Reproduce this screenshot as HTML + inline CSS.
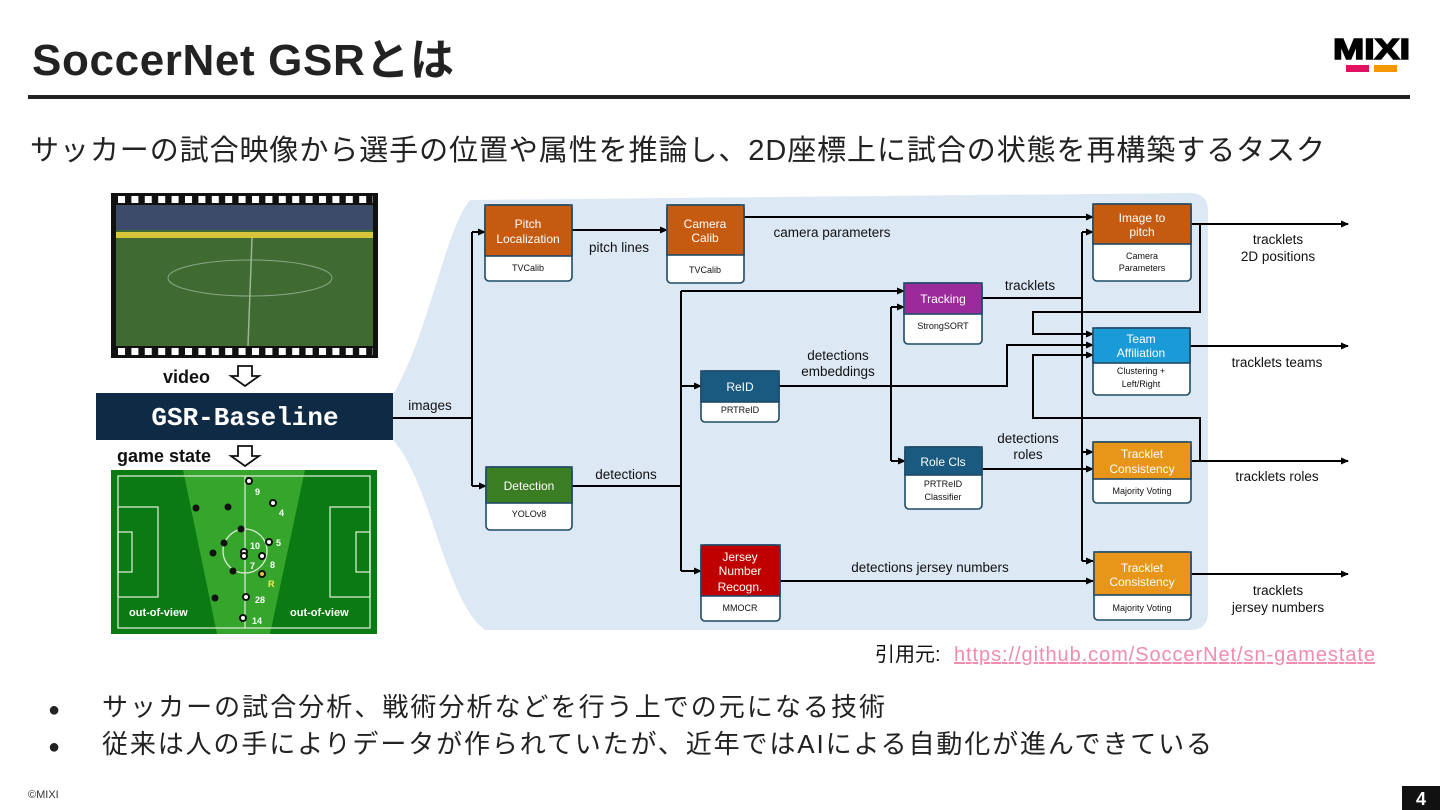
<!DOCTYPE html>
<html><head><meta charset="utf-8"><style>
body{margin:0;width:1440px;height:810px;background:#fff;overflow:hidden;font-family:"Liberation Sans","Noto Sans CJK JP",sans-serif}
svg{position:absolute;left:0;top:0}
</style></head><body>
<svg width="1440" height="810" viewBox="0 0 1440 810" font-family="Liberation Sans, Noto Sans CJK JP, sans-serif">
<defs>
<marker id="a" markerWidth="8" markerHeight="8" refX="7" refY="4" orient="auto" markerUnits="userSpaceOnUse"><path d="M0,0.5 L8,4 L0,7.5z" fill="#000"/></marker>
<pattern id="perf" x="116" y="0" width="13.4" height="10" patternUnits="userSpaceOnUse"><rect x="2" y="0" width="7" height="10" fill="#fff"/></pattern>
</defs>
<!-- header -->
<text x="32" y="75" font-size="44" font-weight="bold" fill="#222" textLength="422">SoccerNet GSRとは</text>
<rect x="28" y="95" width="1382" height="4" fill="#222"/>
<text x="1333" y="59" font-size="29" font-weight="900" fill="#000" textLength="77" lengthAdjust="spacingAndGlyphs" stroke="#000" stroke-width="1.5">MIXI</text>
<rect x="1346" y="65" width="23" height="7" fill="#e0115f"/><rect x="1374" y="65" width="23" height="7" fill="#f39800"/>
<text x="30" y="160" font-size="29" fill="#222" textLength="1295">サッカーの試合映像から選手の位置や属性を推論し、2D座標上に試合の状態を再構築するタスク</text>
<!-- film -->
<rect x="111" y="193" width="267" height="165" fill="#111"/>
<rect x="116" y="205" width="257" height="141" fill="#3f6a32"/>
<rect x="116" y="205" width="257" height="25" fill="#3c4b6a"/>
<rect x="116" y="232" width="257" height="6" fill="#d8c63a"/>
<rect x="116" y="196" width="257" height="7" fill="url(#perf)"/>
<rect x="116" y="348" width="257" height="7" fill="url(#perf)"/>
<ellipse cx="250" cy="278" rx="82" ry="18" fill="none" stroke="#8aa884" stroke-width="1"/>
<line x1="252" y1="238" x2="248" y2="346" stroke="#9ab894" stroke-width="1.5"/>
<text x="163" y="383" font-size="18" font-weight="bold" fill="#111">video</text>
<path d="M238,366 h14 v10 h7 l-14,10 l-14,-10 h7z" fill="#fff" stroke="#111" stroke-width="1.8"/>
<!-- fan -->
<path d="M393,395 C430,330 445,230 470,200 L1190,193 Q1208,193 1208,211 L1208,612 Q1208,630 1190,630 L485,630 C445,600 430,480 393,440z" fill="#dde8f5"/>
<rect x="96" y="393" width="297" height="47" fill="#0f2a45"/>
<text x="245" y="425" font-size="26" font-weight="bold" fill="#fff" text-anchor="middle" font-family="Liberation Mono, monospace">GSR-Baseline</text>
<text x="117" y="462" font-size="18" font-weight="bold" fill="#111">game state</text>
<path d="M238,446 h14 v10 h7 l-14,10 l-14,-10 h7z" fill="#fff" stroke="#111" stroke-width="1.8"/>
<!-- pitch -->
<rect x="111" y="470" width="266" height="164" fill="#0a7a12"/>
<path d="M183,470 L305,470 L270,634 L217,634z" fill="#35a52c"/>
<g fill="none" stroke="#d8e8d0" stroke-width="1.3">
<rect x="118" y="476" width="252" height="152"/>
<line x1="245" y1="476" x2="245" y2="628"/>
<circle cx="245" cy="551" r="22"/>
<rect x="118" y="507" width="40" height="90"/><rect x="118" y="532" width="14" height="40"/>
<rect x="330" y="507" width="40" height="90"/><rect x="356" y="532" width="14" height="40"/>
</g>
<g fill="#fff" stroke="#111" stroke-width="2">
<circle cx="249" cy="481" r="3"/><circle cx="273" cy="503" r="3"/><circle cx="269" cy="542" r="3"/><circle cx="244" cy="552" r="3"/><circle cx="244" cy="556" r="3"/><circle cx="262" cy="556" r="3"/><circle cx="246" cy="597" r="3"/><circle cx="243" cy="618" r="3"/>
</g>
<circle cx="262" cy="574" r="3" fill="#e8c040" stroke="#111" stroke-width="2"/>
<g fill="#111"><circle cx="196" cy="508" r="3.5"/><circle cx="228" cy="507" r="3.5"/><circle cx="241" cy="529" r="3.5"/><circle cx="224" cy="543" r="3.5"/><circle cx="213" cy="553" r="3.5"/><circle cx="233" cy="571" r="3.5"/><circle cx="215" cy="598" r="3.5"/></g>
<g font-size="9" font-weight="bold" fill="#fff"><text x="255" y="495">9</text><text x="279" y="516">4</text><text x="250" y="549">10</text><text x="276" y="546">5</text><text x="250" y="569">7</text><text x="270" y="568">8</text><text x="255" y="603">28</text><text x="252" y="624">14</text><text x="268" y="587" fill="#ee5">R</text>
<text x="129" y="616" font-size="11">out-of-view</text><text x="290" y="616" font-size="11">out-of-view</text></g>
<!-- connectors -->
<g stroke="#000" stroke-width="2" fill="none">
<path d="M393,418 H472"/><path d="M472,232 V486"/>
<path d="M472,232 H485" marker-end="url(#a)"/><path d="M472,486 H486" marker-end="url(#a)"/>
<path d="M572,230 H667" marker-end="url(#a)"/>
<path d="M744,217 H1093" marker-end="url(#a)"/>
<path d="M572,486 H681"/><path d="M681,291 V571"/>
<path d="M681,291 H904" marker-end="url(#a)"/><path d="M681,386 H701" marker-end="url(#a)"/><path d="M681,571 H701" marker-end="url(#a)"/>
<path d="M779,386 H1007 V345 H1093" marker-end="url(#a)"/>
<path d="M891,307 V461"/><path d="M891,307 H904" marker-end="url(#a)"/><path d="M891,461 H905" marker-end="url(#a)"/>
<path d="M982,298 H1082"/><path d="M1082,232 V561"/>
<path d="M1082,232 H1093" marker-end="url(#a)"/><path d="M1082,452 H1093" marker-end="url(#a)"/><path d="M1082,561 H1093" marker-end="url(#a)"/>
<path d="M1200,224 V312 H1033 V334 H1093" marker-end="url(#a)"/>
<path d="M1200,461 V418 H1033 V355 H1093" marker-end="url(#a)"/>
<path d="M982,469 H1093" marker-end="url(#a)"/>
<path d="M780,581 H1093" marker-end="url(#a)"/>
<path d="M1191,224 H1348" marker-end="url(#a)"/><path d="M1190,346 H1348" marker-end="url(#a)"/>
<path d="M1191,461 H1348" marker-end="url(#a)"/><path d="M1191,574 H1348" marker-end="url(#a)"/>
</g>
<!-- boxes -->
<g stroke="#1e4a66" stroke-width="1.6">
<rect x="485" y="205" width="87" height="76" rx="4" fill="#fff"/><rect x="485" y="205" width="87" height="51" fill="#c55a11"/>
<rect x="667" y="205" width="77" height="78" rx="4" fill="#fff"/><rect x="667" y="205" width="77" height="50" fill="#c55a11"/>
<rect x="486" y="467" width="86" height="63" rx="4" fill="#fff"/><rect x="486" y="467" width="86" height="36" fill="#3a7d22"/>
<rect x="701" y="371" width="78" height="51" rx="4" fill="#fff"/><rect x="701" y="371" width="78" height="31" fill="#1a5a80"/>
<rect x="701" y="545" width="79" height="76" rx="4" fill="#fff"/><rect x="701" y="545" width="79" height="51" fill="#c00000"/>
<rect x="904" y="283" width="78" height="61" rx="4" fill="#fff"/><rect x="904" y="283" width="78" height="31" fill="#9b2a9b"/>
<rect x="905" y="447" width="77" height="62" rx="4" fill="#fff"/><rect x="905" y="447" width="77" height="28" fill="#1a5a80"/>
<rect x="1093" y="204" width="98" height="77" rx="4" fill="#fff"/><rect x="1093" y="204" width="98" height="40" fill="#c55a11"/>
<rect x="1093" y="328" width="97" height="67" rx="4" fill="#fff"/><rect x="1093" y="328" width="97" height="35" fill="#1a9ad6"/>
<rect x="1093" y="442" width="98" height="61" rx="4" fill="#fff"/><rect x="1093" y="442" width="98" height="37" fill="#e8961a"/>
<rect x="1094" y="552" width="97" height="68" rx="4" fill="#fff"/><rect x="1094" y="552" width="97" height="43" fill="#e8961a"/>
</g>
<g font-size="12" fill="#fff" text-anchor="middle">
<text x="528" y="228">Pitch</text><text x="528" y="243">Localization</text>
<text x="705" y="228">Camera</text><text x="705" y="242">Calib</text>
<text x="529" y="490">Detection</text>
<text x="740" y="391">ReID</text>
<text x="740" y="561">Jersey</text><text x="740" y="575">Number</text><text x="740" y="591">Recogn.</text>
<text x="943" y="303">Tracking</text>
<text x="943" y="466">Role Cls</text>
<text x="1142" y="222">Image to</text><text x="1142" y="236">pitch</text>
<text x="1141" y="343">Team</text><text x="1141" y="357">Affiliation</text>
<text x="1142" y="458">Tracklet</text><text x="1142" y="473">Consistency</text>
<text x="1142" y="572">Tracklet</text><text x="1142" y="586">Consistency</text>
</g>
<g font-size="9" fill="#111" text-anchor="middle">
<text x="528" y="271">TVCalib</text><text x="705" y="273">TVCalib</text><text x="529" y="517">YOLOv8</text>
<text x="740" y="413">PRTReID</text><text x="740" y="611">MMOCR</text><text x="943" y="329">StrongSORT</text>
<text x="943" y="487">PRTReID</text><text x="943" y="500">Classifier</text>
<text x="1142" y="259">Camera</text><text x="1142" y="271">Parameters</text>
<text x="1141" y="374">Clustering +</text><text x="1141" y="387">Left/Right</text>
<text x="1142" y="494">Majority Voting</text><text x="1142" y="611">Majority Voting</text>
</g>
<g font-size="13.5" fill="#111" text-anchor="middle">
<text x="430" y="410">images</text>
<text x="619" y="252">pitch lines</text>
<text x="832" y="237">camera parameters</text>
<text x="626" y="479">detections</text>
<text x="838" y="360">detections</text><text x="838" y="376">embeddings</text>
<text x="1030" y="290">tracklets</text>
<text x="1028" y="443">detections</text><text x="1028" y="459">roles</text>
<text x="930" y="572">detections jersey numbers</text>
<text x="1278" y="244">tracklets</text><text x="1278" y="261">2D positions</text>
<text x="1277" y="367">tracklets teams</text>
<text x="1277" y="481">tracklets roles</text>
<text x="1278" y="595">tracklets</text><text x="1278" y="612">jersey numbers</text>
</g>
<text x="875" y="661" font-size="20" fill="#111">引用元: </text>
<text x="954" y="661" font-size="20" fill="#f08cb0" text-decoration="underline" textLength="421">https://github.com/SoccerNet/sn-gamestate</text>
<g font-size="26" fill="#222">
<text x="48" y="716" font-size="20">●</text><text x="102" y="716" textLength="783">サッカーの試合分析、戦術分析などを行う上での元になる技術</text>
<text x="48" y="753" font-size="20">●</text><text x="102" y="753" textLength="1110">従来は人の手によりデータが作られていたが、近年ではAIによる自動化が進んできている</text>
</g>
<text x="28" y="798" font-size="11" fill="#333">©MIXI</text>
<rect x="1402" y="786" width="38" height="24" fill="#111"/>
<text x="1421" y="805" font-size="18" font-weight="bold" fill="#fff" text-anchor="middle">4</text>
</svg>
</body></html>
